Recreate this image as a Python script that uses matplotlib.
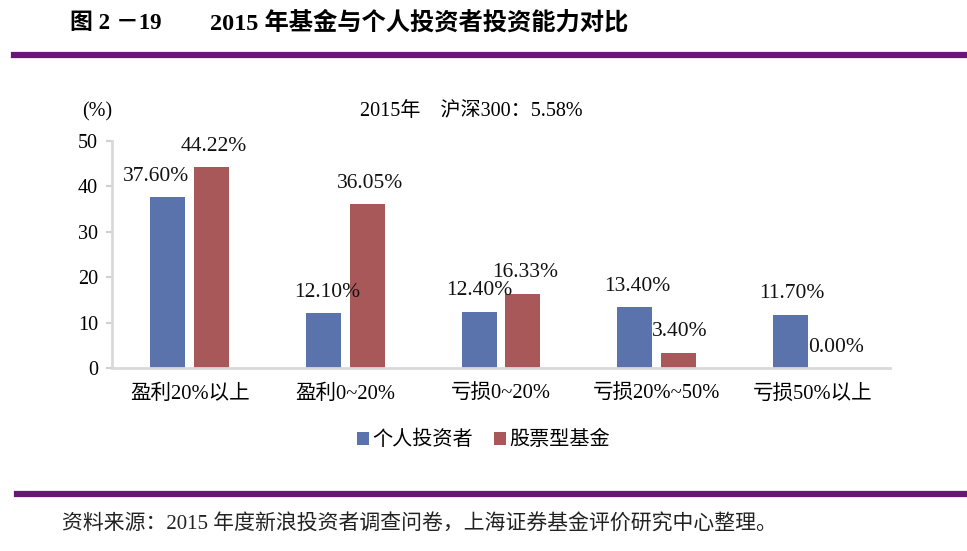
import matplotlib
matplotlib.use('Agg')
import matplotlib.pyplot as plt
import numpy as np
from matplotlib.lines import Line2D

plt.rcParams['font.family'] = ['Liberation Serif', 'Noto Sans CJK SC', 'DejaVu Sans']

# data
categories = ['盈利20%以上', '盈利0~20%', '亏损0~20%', '亏损20%~50%', '亏损50%以上']
individual = [37.60, 12.10, 12.40, 13.40, 11.70]
stock_fund = [44.22, 36.05, 16.33, 3.40, 0.00]
series_names = ['个人投资者', '股票型基金']
yticks = [0, 10, 20, 30, 40, 50]

blue = '#5a73ad'
red = '#a9585a'
purple = '#6a1577'

fig = plt.figure(figsize=(9.67, 5.51), dpi=100)
ax = fig.add_axes([0.1158, 0.332, 0.8046, 0.412])

x = np.arange(len(categories))
w = 0.225
off = 0.141
b1 = ax.bar(x - off, individual, w, color=blue, label=series_names[0])
b2 = ax.bar(x + off, stock_fund, w, color=red, label=series_names[1])

# value labels, first blue one nudged left like the original
nudge1 = [-12, 4, 0, 3, 2]
nudge2 = [2, 3, 2, 1, 2]
for bars, vals, nud in [(b1, individual, nudge1), (b2, stock_fund, nudge2)]:
    for r, v, n in zip(bars, vals, nud):
        ax.annotate(f'{v:.2f}%', (r.get_x() + r.get_width() / 2, v),
                    xytext=(n, 21), textcoords='offset pixels',
                    ha='center', va='center', fontsize=15.5, color='#111111')

ax.set_xlim(-0.5, len(categories) - 0.5)
ax.set_ylim(0, 50)
ax.set_yticks(yticks)
ax.set_yticklabels([str(t) for t in yticks], fontsize=14.5)
ax.set_xticks(x)
ax.set_xticklabels(categories, fontsize=14.8)
ax.tick_params(axis='x', length=0, pad=12)
ax.tick_params(axis='y', length=4, width=1.5, color='#d0d0d0', pad=6)
for s in ['top', 'right']:
    ax.spines[s].set_visible(False)
for s in ['left', 'bottom']:
    ax.spines[s].set_color('#d9d9d9')
    ax.spines[s].set_linewidth(2)

fig.text(0.1, 0.797, '(%)', fontsize=14.5, ha='center', va='center')
fig.text(0.487, 0.797, '2015年    沪深300：5.58%', fontsize=14.5,
         ha='center', va='center')

ax.legend(loc='center', bbox_to_anchor=(0.5, 0.2), bbox_transform=fig.transFigure,
          ncol=2, frameon=False, fontsize=14.5, handlelength=0.6, handleheight=0.6,
          handletextpad=0.2, columnspacing=1.0)

# header and footer
fig.text(0.072, 0.958, '图 2 －19', fontsize=16.5, fontweight='bold', va='center')
fig.text(0.217, 0.958, '2015 年基金与个人投资者投资能力对比', fontsize=17.5,
         fontweight='bold', va='center')
fig.add_artist(Line2D([0.014, 1.0], [0.9, 0.9], color=purple, lw=4.5,
                      transform=fig.transFigure))
fig.add_artist(Line2D([0.018, 1.0], [0.104, 0.104], color=purple, lw=4.5,
                      transform=fig.transFigure))
fig.text(0.064, 0.048, '资料来源：2015 年度新浪投资者调查问卷，上海证券基金评价研究中心整理。',
         fontsize=15, va='center', color='#222222')

fig.savefig('out.png', dpi=100)
